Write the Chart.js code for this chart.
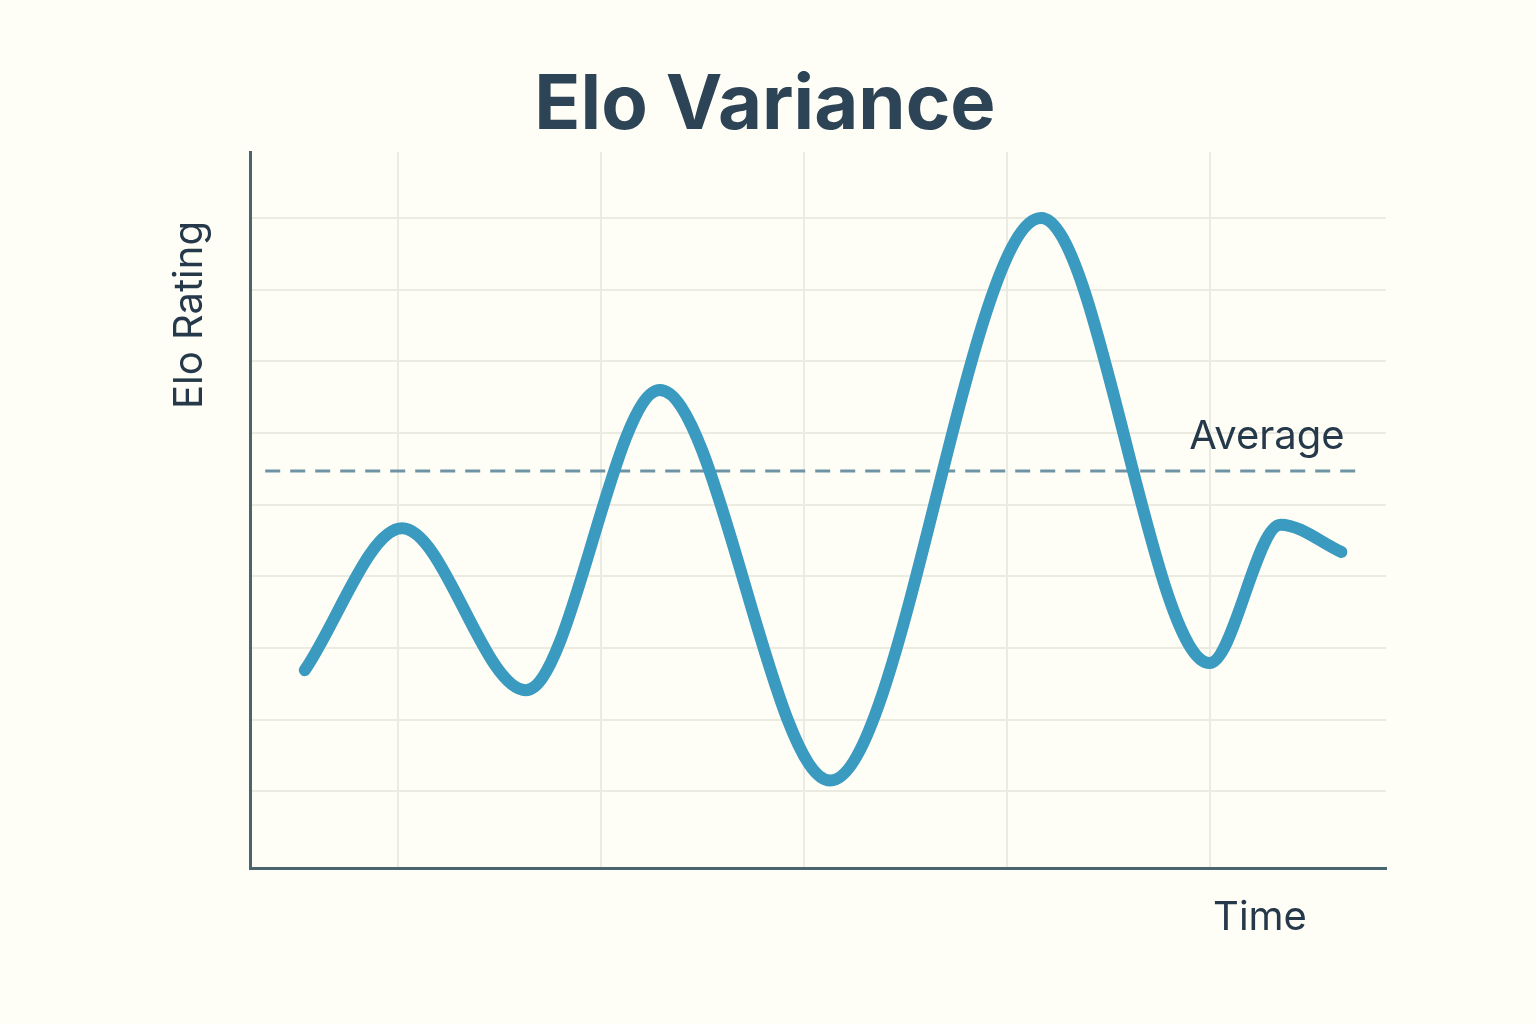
<!DOCTYPE html>
<html><head><meta charset="utf-8">
<script src="https://cdn.jsdelivr.net/npm/chart.js@4"></script>
<style>html,body{margin:0;padding:0;background:#fffef6;}#c{display:block;}</style>
</head><body>
<canvas id="c" width="1536" height="1024"></canvas>
<script>
const timeX = [0.54, 1.02, 1.63, 2.29, 3.13, 4.17, 5.0, 5.35, 5.65];
const eloValues = [2.69, 4.67, 2.41, 6.60, 1.15, 9.0, 2.79, 4.72, 4.34];
const averageValue = 5.47;
const averageRange = [0.345, 5.76];
const titleText = "Elo Variance";
const yAxisLabel = "Elo Rating";
const xAxisLabel = "Time";
const averageLabel = "Average";

const textPlugin = {
  id: 'texts',
  afterDraw(chart) {
    const ctx = chart.ctx;
    ctx.save();
    ctx.fillStyle = '#2d4456';
    ctx.textAlign = 'center';
    ctx.textBaseline = 'middle';
    ctx.font = 'bold 76px Inter, "Open Sans", sans-serif';
    ctx.fillText(titleText, 765, 106);
    ctx.font = '40px Inter, "Open Sans", sans-serif';
    ctx.fillStyle = '#25394a';
    ctx.fillText(xAxisLabel, 1260, 918);
    ctx.fillText(averageLabel, 1267, 437);
    ctx.translate(190, 315);
    ctx.rotate(-Math.PI / 2);
    ctx.fillText(yAxisLabel, 0, 0);
    ctx.restore();
  }
};

new Chart(document.getElementById('c'), {
  type: 'line',
  data: {
    datasets: [
      {
        data: timeX.map((x, i) => ({x, y: eloValues[i]})),
        borderColor: '#3a9abf', borderWidth: 12, pointRadius: 0,
        cubicInterpolationMode: 'monotone', borderCapStyle: 'round', borderJoinStyle: 'round'
      },
      {
        data: averageRange.map(x => ({x, y: averageValue})),
        borderColor: '#6e93a4', borderWidth: 3, borderDash: [15, 10], pointRadius: 0
      }
    ]
  },
  options: {
    responsive: false, animation: false,
    layout: {padding: {left: 250, right: 150, top: 152, bottom: 156}},
    plugins: {legend: {display: false}, tooltip: {enabled: false}},
    scales: {
      x: {
        type: 'linear', min: 0.27, max: 5.87,
        ticks: {display: false, stepSize: 1},
        afterBuildTicks: s => { s.ticks = s.ticks.filter(t => Number.isInteger(t.value)); },
        grid: {color: '#ebebe2', lineWidth: 2, drawTicks: false},
        border: {color: '#4a6470', width: 3}
      },
      y: {
        type: 'linear', min: -0.07, max: 9.92,
        ticks: {display: false, stepSize: 1},
        afterBuildTicks: s => { s.ticks = s.ticks.filter(t => Number.isInteger(t.value) && t.value >= 1); },
        grid: {color: '#ebebe2', lineWidth: 2, drawTicks: false},
        border: {color: '#4a6470', width: 3}
      }
    }
  },
  plugins: [textPlugin]
});
</script>
</body></html>
